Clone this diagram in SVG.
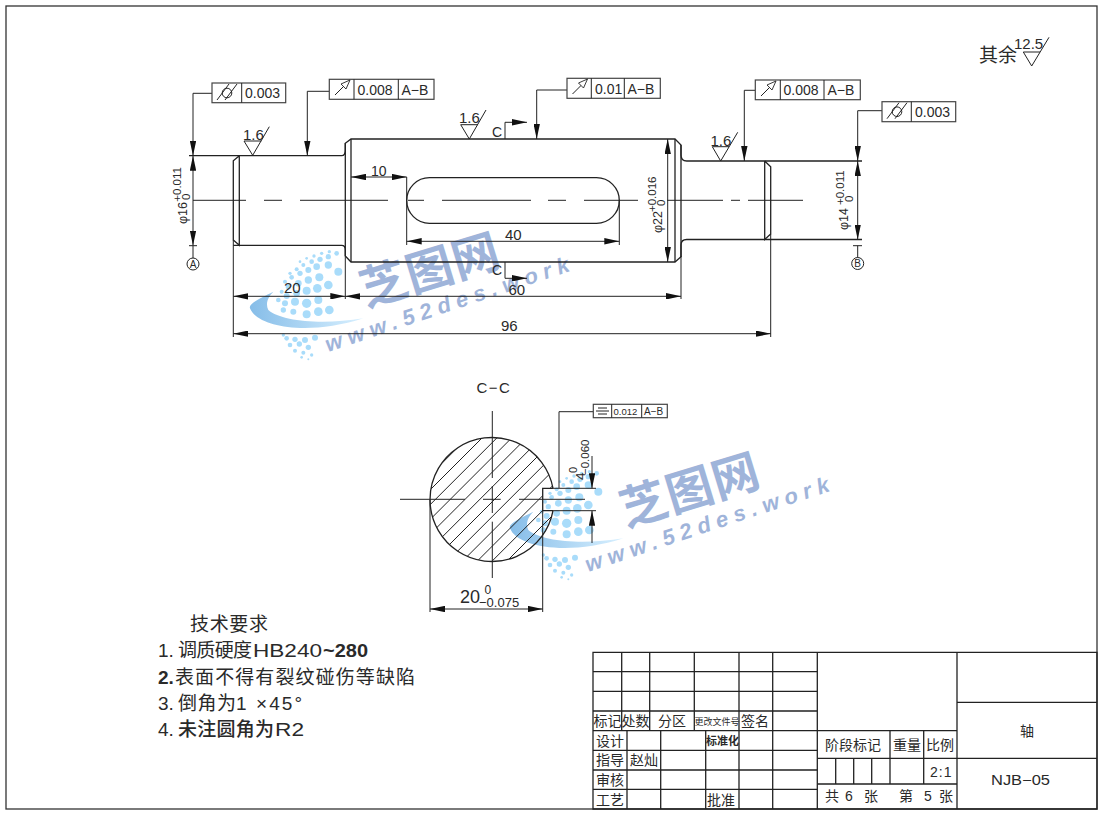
<svg xmlns="http://www.w3.org/2000/svg" xmlns:xlink="http://www.w3.org/1999/xlink" width="1105" height="814" viewBox="0 0 1105 814">
<style>
text{font-family:"Liberation Sans","Noto Sans CJK SC",sans-serif;fill:#2a2a2a}
.m{fill:none;stroke:#222;stroke-width:1.3}
.d{fill:none;stroke:#222;stroke-width:1}
.a{marker-start:url(#ah);marker-end:url(#ah)}
.e{marker-end:url(#ah)}
.b{fill:#fff;stroke:#444;stroke-width:1.2}
.s14{font-size:14px}.s15{font-size:15px}.s12{font-size:12.5px}.s11{font-size:11.5px}
.c{text-anchor:middle}
.t{font-size:14px}
.r{font-size:19px}
.wm{fill:#9fb4da}
</style>
<defs>
<marker id="ah" markerUnits="userSpaceOnUse" viewBox="0 0 15 6.4" refX="15" refY="3.2" markerWidth="15" markerHeight="6.4" orient="auto-start-reverse"><path d="M0 0L15 3.2L0 6.4Z" fill="#111"/></marker>
<linearGradient id="sw" x1="0" x2="1" y1="0" y2="0"><stop offset="0" stop-color="#86bde8"/><stop offset="1" stop-color="#d8f0ff"/></linearGradient>
<g id="cyl" class="d"><circle cx="0" cy="0" r="4.8"/><path d="M-10 7L2 -9M-2 7L10 -9"/></g>
<g id="run"><path class="d" d="M0 13L13 0"/><path d="M15 -2L6 2L11 7Z" fill="#fff" stroke="#222" stroke-width=".9"/></g>
<g id="wmk">
<path d="M100 215C60 235 25 250 30 265C50 320 200 350 370 295C250 315 125 305 85 270C75 250 85 230 100 215Z" fill="url(#sw)"/>
<g fill="#a9dcfa">
<circle cx="268" cy="270" r="13"/><circle cx="235" cy="275" r="13"/><circle cx="200" cy="283" r="12"/><circle cx="265" cy="195" r="13"/><circle cx="232" cy="205" r="13"/><circle cx="200" cy="212" r="12"/><circle cx="170" cy="220" r="10"/><circle cx="140" cy="228" r="9"/><circle cx="115" cy="240" r="7"/><circle cx="295" cy="155" r="12"/><circle cx="265" cy="135" r="11"/><circle cx="238" cy="172" r="12"/><circle cx="205" cy="180" r="11"/><circle cx="175" cy="190" r="10"/><circle cx="145" cy="200" r="8"/><circle cx="125" cy="215" r="6"/><circle cx="230" cy="140" r="10"/><circle cx="205" cy="150" r="9"/><circle cx="180" cy="160" r="8"/><circle cx="155" cy="172" r="7"/><circle cx="135" cy="185" r="6"/><circle cx="265" cy="110" r="8"/><circle cx="240" cy="118" r="8"/><circle cx="215" cy="125" r="7"/><circle cx="190" cy="135" r="6"/><circle cx="170" cy="148" r="6"/><circle cx="150" cy="160" r="5"/><circle cx="290" cy="100" r="7"/><circle cx="268" cy="95" r="5"/><circle cx="245" cy="100" r="5"/><circle cx="222" cy="108" r="5"/><circle cx="200" cy="115" r="4"/><circle cx="180" cy="125" r="4"/><circle cx="200" cy="250" r="14"/><circle cx="165" cy="245" r="12"/><circle cx="135" cy="250" r="9"/><circle cx="235" cy="240" r="12"/><circle cx="130" cy="270" r="8"/><circle cx="160" cy="275" r="9"/><circle cx="140" cy="355" r="7"/><circle cx="165" cy="358" r="8"/><circle cx="195" cy="360" r="9"/><circle cx="225" cy="353" r="9"/><circle cx="150" cy="375" r="7"/><circle cx="178" cy="372" r="8"/><circle cx="205" cy="382" r="8"/><circle cx="165" cy="392" r="6"/><circle cx="190" cy="398" r="6"/><circle cx="215" cy="405" r="5"/><circle cx="185" cy="412" r="4"/><circle cx="205" cy="418" r="3"/><circle cx="130" cy="345" r="5"/>
</g>
</g>
<clipPath id="hc"><path d="M553 488.3A62 62 0 1 0 553 510.7L542.7 510.7L542.7 488.3Z"/></clipPath>
</defs>
<rect x="6" y="6" width="1091" height="803" fill="#fff" stroke="#333" stroke-width="1.3"/>

<g id="watermark-1">
<use href="#wmk" transform="translate(240 220) scale(.3333)"/>
<text class="wm" x="366" y="307" font-size="47" font-weight="700" transform="rotate(-17 366 307)" textLength="143">芝图网</text>
<text class="wm" x="328" y="352" font-size="22" font-weight="700" font-style="italic" transform="rotate(-18.5 328 352)" textLength="256">www.52des.work</text>
</g>
<g id="watermark-2" transform="translate(260 220)">
<use href="#wmk" transform="translate(240 220) scale(.3333)"/>
<text class="wm" x="366" y="307" font-size="47" font-weight="700" transform="rotate(-17 366 307)" textLength="143">芝图网</text>
<text class="wm" x="328" y="352" font-size="22" font-weight="700" font-style="italic" transform="rotate(-18.5 328 352)" textLength="256">www.52des.work</text>
</g>

<g id="shaft">
<path class="m" d="M189 155.7H341.7Q345.3 155.7 345.3 150V143.3L351 139H675L681 145V155Q681 161 686.7 161H862"/>
<path class="m" d="M233.3 245.3H341.7Q345.3 245.3 345.3 250V256L351 262H675L681 256.7V245Q681 239.5 686.7 239.5H862"/>
<path class="m" d="M239.3 155.7L233.3 160.7V240L239.3 245.3V155.7M345.3 143V256M351 139V262M675 139V262M681 145V256.7M764.7 161V239.5L770.7 234V166.7L764.7 161"/>
<path class="m" d="M429.5 177.7H596.5A22.8 22.8 0 0 1 596.5 223.3H429.5A22.8 22.8 0 0 1 429.5 177.7Z"/>
<path class="d" stroke-width="1.1" d="M193 200.3H246M264 200.3H282M300 200.3H388M408 200.3H424M442 200.3H531M548 200.3H566M584 200.3H638M667 200.3H723M731 200.3H740M748 200.3H803"/>
</g>

<g id="dimensions">
<path class="d" d="M233.3 240V337M345.3 256V299M681 256V299M770.7 234V337M406.7 177V245M619.3 200V245"/>
<path class="d a" d="M351 177H406.7"/>
<path class="d a" d="M406.7 241.3H619.3"/>
<path class="d a" d="M233.3 296.3H345.3"/>
<path class="d a" d="M345.3 296.3H681"/>
<path class="d a" d="M233.3 333.7H770.7"/>
<path class="d a" d="M667.7 139V262"/>
<path class="d a" d="M193 155.7V245.5"/>
<path class="d a" d="M857.7 161V239.5"/>
<text class="s14" x="371" y="176">10</text>
<text class="s15" x="284" y="292.7">20</text>
<text class="s15" x="505" y="240">40</text>
<text class="s15" x="508.5" y="295">60</text>
<text class="s15" x="501" y="331">96</text>
<text class="s12" transform="translate(187 224) rotate(-90)">φ16</text>
<text class="s11" transform="translate(181 201.7) rotate(-90)">+0.011</text>
<text class="s11" transform="translate(190 200) rotate(-90)">0</text>
<text class="s12" transform="translate(661.5 233) rotate(-90)">φ22</text>
<text class="s11" transform="translate(655.7 212) rotate(-90)">+0.016</text>
<text class="s11" transform="translate(664.7 206) rotate(-90)">0</text>
<text class="s12" transform="translate(848 230) rotate(-90)">φ14</text>
<text class="s11" transform="translate(843.5 205) rotate(-90)">+0.011</text>
<text class="s11" transform="translate(853 202) rotate(-90)">0</text>
</g>

<g id="section-marks">
<path class="d e" d="M505 139V122.3H527"/>
<path class="d e" d="M505 262V278.3H527"/>
<text class="s14 c" x="497" y="137">C</text>
<text class="s14 c" x="497" y="275">C</text>
</g>

<g id="roughness">
<path class="d" d="M261.3 141H244L252.7 155.3L269.3 126.7"/>
<path class="d" d="M478 124.7H460.7L469.3 139L486 110"/>
<path class="d" d="M729 146.7H712.3L720.7 161L737.7 132.3"/>
<path class="d" d="M1040 52H1023.3L1031.7 66L1049 37.3"/>
<text class="s15" x="243" y="140">1.6</text>
<text class="s15" x="459" y="123.3">1.6</text>
<text class="s15" x="710.5" y="146">1.6</text>
<text class="s15" x="1014" y="49.3">12.5</text>
<text x="979" y="62" font-size="19">其余</text>
</g>

<g id="tolerance-frames">
<path class="d e" d="M212 93.3H193V155.7"/>
<path class="d e" d="M329.3 91.3H307.3V155.7"/>
<path class="d e" d="M567 90H536.7V139"/>
<path class="d e" d="M755.3 90.3H744.3V161"/>
<path class="d e" d="M882 110.7H857.7V161"/>
<path class="d" d="M559 411.7H593.3M559 411.7V488"/>
<g id="fcf1"><rect class="b" x="212" y="83" width="73.7" height="19.7"/><path class="d" d="M241.7 83V102.7"/><use href="#cyl" x="227" y="93"/><text class="s14" x="245" y="98">0.003</text></g>
<g id="fcf2"><rect class="b" x="329.3" y="79.3" width="104.7" height="20"/><path class="d" d="M354 79.3V99.3M398.3 79.3V99.3"/><use href="#run" x="335" y="82"/><text class="s14" x="357.5" y="94.5">0.008</text><text class="s14" x="401.5" y="94.5">A−B</text></g>
<g id="fcf3"><rect class="b" x="567" y="78.3" width="93.3" height="20"/><path class="d" d="M591.3 78.3V98.3M624.3 78.3V98.3"/><use href="#run" x="572.5" y="81"/><text class="s14" x="595" y="93.5">0.01</text><text class="s14" x="627.5" y="93.5">A−B</text></g>
<g id="fcf4"><rect class="b" x="755.3" y="80" width="105" height="19.7"/><path class="d" d="M780.3 80V99.7M824 80V99.7"/><use href="#run" x="761" y="83"/><text class="s14" x="783.5" y="95">0.008</text><text class="s14" x="827.5" y="95">A−B</text></g>
<g id="fcf5"><rect class="b" x="882" y="101.7" width="73.7" height="20"/><path class="d" d="M911.3 101.7V121.7"/><use href="#cyl" x="897" y="111.7"/><text class="s14" x="915" y="116.7">0.003</text></g>
<g id="fcf6"><rect class="b" x="593.3" y="404.3" width="74" height="13.4"/><path class="d" d="M611.7 404.3V417.7M641.7 404.3V417.7M598 408H607M596 411H609M598 414H607"/><text font-size="9.5" x="613.5" y="414.5">0.012</text><text font-size="10" x="644" y="414.8">A−B</text></g>
</g>

<g id="datums">
<path class="d" d="M189 245.7H197M193 245.7V258M853 245.7H862M857.7 245.7V257.5"/>
<circle class="d" cx="193" cy="264" r="6"/><text font-size="10" class="c" x="193" y="267.5">A</text>
<circle class="d" cx="857.7" cy="263.5" r="6"/><text font-size="10" class="c" x="857.7" y="267">B</text>
</g>

<g id="section-cc">
<text class="s15 c" x="494" y="393" letter-spacing="1.5">C−C</text>
<path class="d" clip-path="url(#hc)" d="M470.2 435l-130 130M485 435l-130 130M499.8 435l-130 130M514.6 435l-130 130M529.4 435l-130 130M544.2 435l-130 130M559 435l-130 130M573.8 435l-130 130M588.6 435l-130 130M603.4 435l-130 130M618.2 435l-130 130M633 435l-130 130"/>
<path class="m" d="M553 488.3A62 62 0 1 0 553 510.7M553 488.3H542.7V510.7H553"/>
<path class="d" d="M400 499.3H465M483 499.3H500.7M519 499.3H585M492.3 411V478M492.3 486V513M492.3 521.7V578"/>
<path class="d" d="M553 488.3H596M553 510.7H596M430 500V612M542.7 510V612"/>
<path class="d e" d="M592 456V488.3"/>
<path class="d e" d="M592 543V510.7"/>
<path class="d a" d="M430 609H542.7"/>
<text font-size="18" x="460" y="603">20</text>
<text font-size="12" x="484.5" y="594">0</text>
<text font-size="13" x="479" y="607">−0.075</text>
<text font-size="13.5" transform="translate(585 480) rotate(-90)">4</text>
<text font-size="11" transform="translate(577 473) rotate(-90)">0</text>
<text font-size="11.5" transform="translate(589 475) rotate(-90)">−0.060</text>
</g>

<g id="tech-notes">
<text class="r" x="190" y="631" textLength="78">技术要求</text>
<text class="r" x="158" y="657">1.</text><text class="r" x="178" y="657" textLength="74">调质硬度</text><text class="r" x="253" y="657" textLength="69" lengthAdjust="spacingAndGlyphs">HB240</text><text class="r" x="323" y="657" font-weight="700" textLength="45" lengthAdjust="spacingAndGlyphs">~280</text>
<text class="r" x="158" y="684" font-weight="700">2.</text><text class="r" x="175" y="684" textLength="240">表面不得有裂纹碰伤等缺陷</text>
<text class="r" x="158" y="710">3.</text><text class="r" x="178" y="710" textLength="58">倒角为</text><text class="r" x="236" y="710" textLength="66">1 ×45°</text>
<text class="r" x="158" y="736">4.</text><text class="r" x="178" y="736" font-weight="500" textLength="96">未注圆角为</text><text class="r" x="275" y="736" textLength="29" lengthAdjust="spacingAndGlyphs">R2</text>
</g>

<g id="title-block">
<path class="m" stroke="#333" d="M593 652.3H1097V809H593ZM593 671.7H817.3M593 691.3H817.3M593 711H817.3M593 730.7H957M593 750.3H817.3M593 770H817.3M593 789.3H817.3M957 702.3H1097M817.3 758.3H1097M817.3 784H957"/>
<path class="m" stroke="#333" d="M621.7 652.3V730.7M649.7 652.3V730.7M694.3 652.3V730.7M739 652.3V809M772.7 652.3V809M817.3 652.3V809M957 652.3V809M627 730.7V809M660.7 730.7V809M705.7 730.7V809M890 730.7V784M923.7 730.7V784M835.7 758.3V784M853.7 758.3V784M871.7 758.3V784"/>
<text class="t" x="593.5" y="726">标记</text><text class="t" x="621.5" y="726">处数</text><text class="t" x="658" y="726">分区</text><text font-size="9" x="694.5" y="724.5">更改文件号</text><text class="t" x="741" y="726">签名</text>
<text class="t" x="596" y="745.5">设计</text><text font-size="11" font-weight="700" x="706" y="745">标准化</text>
<text class="t" x="596" y="765">指导</text><text class="t" x="630" y="765">赵灿</text>
<text class="t" x="596" y="785">审核</text>
<text class="t" x="596" y="805">工艺</text><text class="t" x="707" y="805">批准</text>
<text class="t" x="825" y="750">阶段标记</text><text class="t" x="893" y="750">重量</text><text class="t" x="926" y="750">比例</text>
<text class="t" x="930" y="777" letter-spacing="1">2:1</text>
<text class="t" x="825" y="801">共</text><text class="t" x="845" y="801">6</text><text class="t" x="864" y="801">张</text><text class="t" x="899" y="801">第</text><text class="t" x="924" y="801">5</text><text class="t" x="939" y="801">张</text>
<text class="t c" x="1027" y="736">轴</text>
<text class="t" x="991" y="785" textLength="59" lengthAdjust="spacingAndGlyphs">NJB−05</text>
</g>
</svg>
